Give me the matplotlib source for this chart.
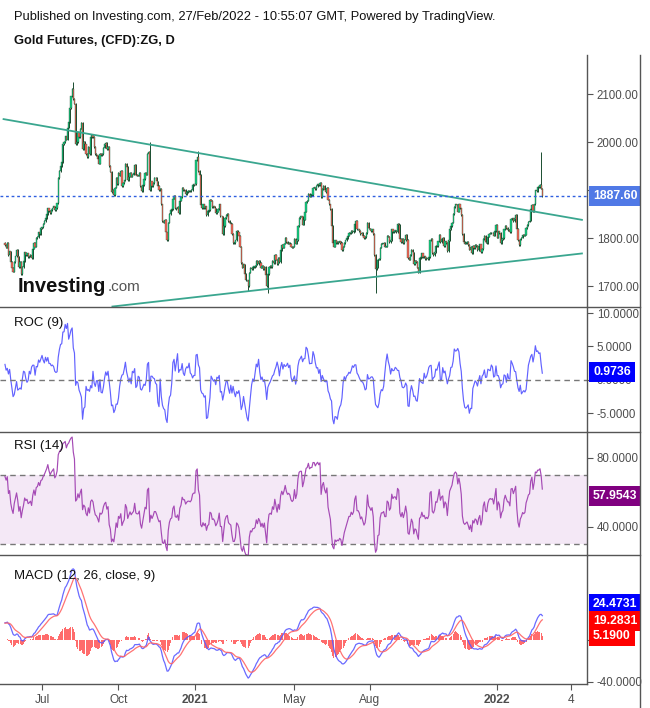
import numpy as np
import pandas as pd
import matplotlib
matplotlib.use("Agg")
import matplotlib.pyplot as plt
from matplotlib.lines import Line2D

plt.rcParams['font.family'] = ['Liberation Sans', 'DejaVu Sans']

# ---------------- data: daily closes per month ----------------
c_2020_04 = [1640,1660,1668,1710,1700,1695,1728,1735,1735,1762,1785,1775,1740,1735,1755,1728,1760,1775,1765,1765,1760,1732]
c_2020_05 = [1745,1750,1745,1755,1760,1750,1745,1750,1760,1775,1790,1785,1780,1790,1765,1772,1750,1738,1730,1750,1762]
c_2020_06 = [1775,1762,1740,1750,1725,1740,1752,1770,1765,1768,1760,1762,1765,1758,1778,1790,1782,1800,1802,1812,1808,1820]
c_2020_07 = [1822,1830,1835,1842,1850,1862,1856,1852,1858,1862,1866,1858,1862,1872,1925,1940,1950,1958,1995,2000,2012,2005,2030]
c_2020_08 = [2042,2070,2095,2110,2090,2080,1995,2000,2020,2010,2028,2040,1985,2000,1995,1975,1968,1990,1975,2010,2015]
c_2020_09 = [2010,1990,1975,1972,1965,1955,1975,1972,1975,1988,1995,1998,1985,1990,1950,1938,1895,1900,1890,1905,1925,1912]
c_2020_10 = [1935,1930,1940,1908,1915,1920,1955,1948,1920,1928,1935,1928,1932,1935,1952,1932,1930,1930,1935,1908,1898,1910]
c_2020_11 = [1922,1935,1932,1975,1980,1900,1918,1908,1915,1925,1925,1918,1908,1900,1902,1870,1835,1832,1838,1812,1795]
c_2020_12 = [1832,1850,1858,1860,1882,1888,1862,1860,1865,1852,1878,1885,1905,1900,1900,1892,1896,1898,1898,1897,1900,1910,1912]
c_2021_01 = [1912,1962,1968,1940,1932,1868,1862,1870,1862,1866,1848,1856,1858,1880,1878,1865,1866,1862,1852,1855,1860]
c_2021_02 = [1870,1845,1845,1808,1825,1842,1848,1850,1835,1832,1830,1808,1790,1790,1795,1815,1812,1805,1782,1748]
c_2021_03 = [1738,1745,1725,1712,1712,1700,1728,1738,1735,1740,1740,1742,1752,1745,1752,1748,1738,1742,1735,1740,1722,1700,1725]
c_2021_04 = [1740,1742,1740,1752,1748,1765,1755,1745,1758,1750,1775,1785,1780,1788,1800,1792,1788,1790,1788,1782,1780,1782]
c_2021_05 = [1798,1788,1795,1825,1842,1845,1845,1828,1838,1855,1875,1878,1892,1886,1890,1890,1905,1905,1902,1908,1912]
c_2021_06 = [1910,1915,1885,1902,1908,1900,1896,1905,1880,1870,1860,1825,1790,1782,1795,1790,1792,1790,1793,1790,1775,1782]
c_2021_07 = [1790,1795,1800,1805,1810,1810,1815,1812,1815,1830,1835,1818,1818,1815,1808,1810,1805,1800,1802,1810,1832,1820]
c_2021_08 = [1818,1815,1818,1808,1765,1735,1738,1755,1756,1780,1788,1788,1790,1782,1782,1805,1803,1792,1795,1818,1812,1815]
c_2021_09 = [1815,1812,1830,1828,1798,1792,1798,1790,1796,1806,1796,1758,1755,1765,1776,1770,1745,1752,1750,1738,1728,1758]
c_2021_10 = [1760,1768,1760,1762,1756,1758,1756,1760,1795,1798,1768,1765,1770,1784,1783,1793,1807,1792,1798,1800,1783]
c_2021_11 = [1793,1790,1772,1795,1818,1825,1832,1850,1865,1870,1868,1855,1870,1862,1848,1808,1792,1788,1790,1792,1785,1776]
c_2021_12 = [1782,1768,1784,1779,1785,1783,1775,1783,1787,1771,1777,1798,1805,1791,1790,1803,1809,1811,1810,1811,1805,1815,1828]
c_2022_01 = [1801,1814,1810,1789,1797,1800,1818,1826,1821,1817,1817,1812,1840,1841,1835,1841,1848,1819,1795,1785,1797]
c_2022_02 = [1801,1807,1805,1807,1821,1827,1834,1836,1860,1869.4,1855,1870,1899,1898,1906,1906,1910,1903,1887.6]

months = ['2020-04','2020-05','2020-06','2020-07','2020-08','2020-09','2020-10','2020-11','2020-12',
          '2021-01','2021-02','2021-03','2021-04','2021-05','2021-06','2021-07','2021-08','2021-09',
          '2021-10','2021-11','2021-12','2022-01','2022-02']
month_closes = [c_2020_04,c_2020_05,c_2020_06,c_2020_07,c_2020_08,c_2020_09,c_2020_10,c_2020_11,c_2020_12,
                c_2021_01,c_2021_02,c_2021_03,c_2021_04,c_2021_05,c_2021_06,c_2021_07,c_2021_08,c_2021_09,
                c_2021_10,c_2021_11,c_2021_12,c_2022_01,c_2022_02]

# intraday extremes that stand out (date, high, low)
spike_dates = ['2020-08-07','2020-11-09','2021-01-06','2021-03-08','2021-03-31','2021-08-09','2022-02-24']
spike_highs = [2124, 1998, 1980, None, None, None, 1977]
spike_lows  = [None, None, None, 1692, 1686, 1686, None]

# drawn trend lines (date, price)
upper_line = [('2020-05-14', 2048.0), ('2022-04-15', 1837.5)]
lower_line = [('2020-09-23', 1657.0), ('2022-04-15', 1768.0)]

last_price = 1887.60
roc_last, rsi_last = 0.9736, 57.9543
macd_last, signal_last, hist_last = 24.4731, 19.2831, 5.1900
tick_months = ['2020-07','2020-10','2021-01','2021-05','2021-08','2022-01','2022-04']
tick_labels = ['Jul','Oct','2021','May','Aug','2022','4']
bold_ticks = ['2021','2022']

# ---------------- build series ----------------
dates = []
closes = []
for m, lst in zip(months, month_closes):
    d = pd.bdate_range(start=m + '-01', periods=len(lst))
    dates.extend(list(d))
    closes.extend(lst)
dates = pd.DatetimeIndex(dates)
c = pd.Series(closes, dtype=float)
N = len(c)
x = np.arange(N)
o = c.shift(1).fillna(c.iloc[0])
hi = np.maximum(o, c).values.copy()
lo = np.minimum(o, c).values.copy()
date_pos = {d.strftime('%Y-%m-%d'): i for i, d in enumerate(dates)}
for d, h, l in zip(spike_dates, spike_highs, spike_lows):
    i = date_pos[d]
    if h is not None:
        hi[i] = h
    if l is not None:
        lo[i] = l

future = pd.bdate_range(start=dates[-1] + pd.Timedelta(days=1), end='2022-06-30')
all_dates = dates.append(future)

def idx_of(datestr):
    ts = pd.Timestamp(datestr)
    return int(np.searchsorted(all_dates.values, np.datetime64(ts)))

# indicators
roc = 100 * (c / c.shift(9) - 1)
delta = c.diff()
up = delta.clip(lower=0)
dn = -delta.clip(upper=0)
rs = up.ewm(alpha=1/14, adjust=False).mean() / dn.ewm(alpha=1/14, adjust=False).mean()
rsi = 100 - 100 / (1 + rs)
macd = c.ewm(span=12, adjust=False).mean() - c.ewm(span=26, adjust=False).mean()
sig = macd.ewm(span=9, adjust=False).mean()
hist = macd - sig

start = date_pos['2020-05-18']
vis = x >= start

# ---------------- figure ----------------
W, H = 650, 708
fig = plt.figure(figsize=(W/100, H/100), dpi=100)

def pax(y_top, y_bot, x0=0, x1=587):
    return fig.add_axes([x0/W, (H - y_bot)/H, (x1 - x0)/W, (y_bot - y_top)/H])

ax_p = pax(55, 307)
ax_r = pax(307, 432)
ax_s = pax(432, 555)
ax_m = pax(555, 684)

xl = (28.7, 535.6)
grey = '#555555'
tick_col = '#4d4d4d'
for ax in (ax_p, ax_r, ax_s, ax_m):
    ax.set_xlim(*xl)
    ax.yaxis.tick_right()
    for s in ('top', 'left', 'bottom'):
        ax.spines[s].set_visible(False)
    ax.spines['right'].set_color(grey)
    ax.spines['right'].set_linewidth(1.0)
    ax.tick_params(axis='y', direction='out', length=4, width=0.8, color=grey,
                   labelsize=8.3, labelcolor=tick_col, pad=3)
    ax.set_xticks([])
    ax.patch.set_alpha(0)

# --- price panel ---
up_col, dn_col, edge_col = '#16d084', '#ff6458', '#1a4d30'
xv = x[vis]
ov, cv = o.values[vis], c.values[vis]
body_lo = np.minimum(ov, cv)
body_h = np.maximum(np.abs(cv - ov), 0.8)
cols = np.where(cv >= ov, up_col, dn_col)
ax_p.vlines(xv, lo[vis] - 1.5, hi[vis] + 1.5, color=edge_col, lw=0.7, zorder=2)
ax_p.bar(xv, body_h, bottom=body_lo, width=1.05, color=cols, edgecolor=edge_col,
         linewidth=0.25, zorder=3)

tl_col = '#3aa68f'
for line in (upper_line, lower_line):
    (d0, p0), (d1, p1) = line
    ax_p.plot([idx_of(d0), idx_of(d1)], [p0, p1], color=tl_col, lw=1.3, zorder=4,
              solid_capstyle='butt')

ax_p.axhline(last_price, color='#2f5fe0', lw=1.0, ls=(0, (2, 2)), zorder=5)
ax_p.set_ylim(1656.25, 2181.25)
ax_p.set_yticks([1700, 1800, 1900, 2000, 2100])
ax_p.set_yticklabels(['%.2f' % v for v in [1700, 1800, 1900, 2000, 2100]])

def value_box(ax, val, text, fc, dy=0):
    ax.annotate(text, xy=(1.0, val), xycoords=('axes fraction', 'data'),
                xytext=(6, dy), textcoords='offset pixels', ha='left', va='center',
                fontsize=8.8, fontweight='bold', color='white', zorder=20,
                annotation_clip=False,
                bbox=dict(boxstyle='square,pad=0.32', fc=fc, ec='none'))

value_box(ax_p, last_price, '%.2f' % last_price, '#5079e6')

# logo
ax_p.text(18/587, (307-286)/252, 'Investing', transform=ax_p.transAxes, fontsize=14.5,
          fontweight='bold', color='#111111', va='center', ha='left', zorder=6)
ax_p.text(108/587, (307-287)/252, '.com', transform=ax_p.transAxes, fontsize=11,
          color='#555555', va='center', ha='left', zorder=6)

# --- ROC panel ---
ax_r.plot(xv, roc.values[vis], color='#6262ff', lw=0.85)
ax_r.axhline(0, color='#777777', lw=1.0, ls=(0, (4, 3)))
ax_r.set_ylim(-7.84, 10.9)
ax_r.set_yticks([-5, 0, 5, 10])
ax_r.set_yticklabels(['%.4f' % v for v in [-5, 0, 5, 10]])
value_box(ax_r, roc_last, '%.4f' % roc_last, '#0000ff', dy=1)
ax_r.text(14/587, (432-323)/125, 'ROC (9)', transform=ax_r.transAxes, fontsize=9.5,
          color='#111111', va='center')

# --- RSI panel ---
ax_s.axhspan(30, 70, color='#9c27b0', alpha=0.1, lw=0)
ax_s.axhline(70, color='#777777', lw=1.0, ls=(0, (4, 3)))
ax_s.axhline(30, color='#777777', lw=1.0, ls=(0, (4, 3)))
ax_s.plot(xv, rsi.values[vis], color='#a54ab5', lw=0.85)
ax_s.set_ylim(23.6, 94.9)
ax_s.set_yticks([40, 80])
ax_s.set_yticklabels(['%.4f' % v for v in [40, 80]])
value_box(ax_s, rsi_last, '%.4f' % rsi_last, '#800080')
ax_s.text(14/587, (555-446)/123, 'RSI (14)', transform=ax_s.transAxes, fontsize=9.5,
          color='#111111', va='center')

# --- MACD panel ---
ax_m.bar(xv, hist.values[vis], width=0.85, color='#ff5252', alpha=0.85, lw=0)
ax_m.plot(xv, macd.values[vis], color='#5a5aff', lw=0.9, alpha=0.9)
ax_m.plot(xv, sig.values[vis], color='#ff6464', lw=0.9, alpha=0.9)
ax_m.set_ylim(-42.3, 81.7)
ax_m.set_yticks([-40, 0])
ax_m.set_yticklabels(['%.4f' % v for v in [-40, 0]])
value_box(ax_m, macd_last, '%.4f' % macd_last, '#0000ff', dy=10.5)
value_box(ax_m, signal_last, '%.4f' % signal_last, '#ff0000', dy=-1)
value_box(ax_m, hist_last, '%.4f' % hist_last, '#ff0000', dy=-1.5)
ax_m.text(14/587, (684-576)/129, 'MACD (12, 26, close, 9)', transform=ax_m.transAxes,
          fontsize=9.5, color='#111111', va='center')

ax_m.spines['bottom'].set_visible(True)
ax_m.spines['bottom'].set_color(grey)
ax_m.spines['bottom'].set_linewidth(1.0)
tpos = [idx_of(m + '-01') for m in tick_months]
ax_m.set_xticks(tpos)
ax_m.set_xticklabels(tick_labels)
ax_m.tick_params(axis='x', direction='out', length=4, width=0.8, color=grey,
                 labelsize=8.6, labelcolor=tick_col, pad=3)
for lab in ax_m.get_xticklabels():
    if lab.get_text() in bold_ticks:
        lab.set_fontweight('bold')

# separators and frame
for yy in (307, 432, 555):
    fig.add_artist(Line2D([0, 640/W], [(H-yy)/H]*2, color=grey, lw=1.0))
fig.add_artist(Line2D([640/W]*2, [0, (H-55)/H], color=grey, lw=1.0))

# header
fig.text(14/W, (H-17)/H, 'Published on Investing.com, 27/Feb/2022 - 10:55:07 GMT, Powered by TradingView.',
         fontsize=9.3, color='#111111', va='center')
fig.text(14/W, (H-41)/H, 'Gold Futures, (CFD):ZG, D', fontsize=9.3, fontweight='bold',
         color='#111111', va='center')

fig.savefig('out.png', dpi=100)
